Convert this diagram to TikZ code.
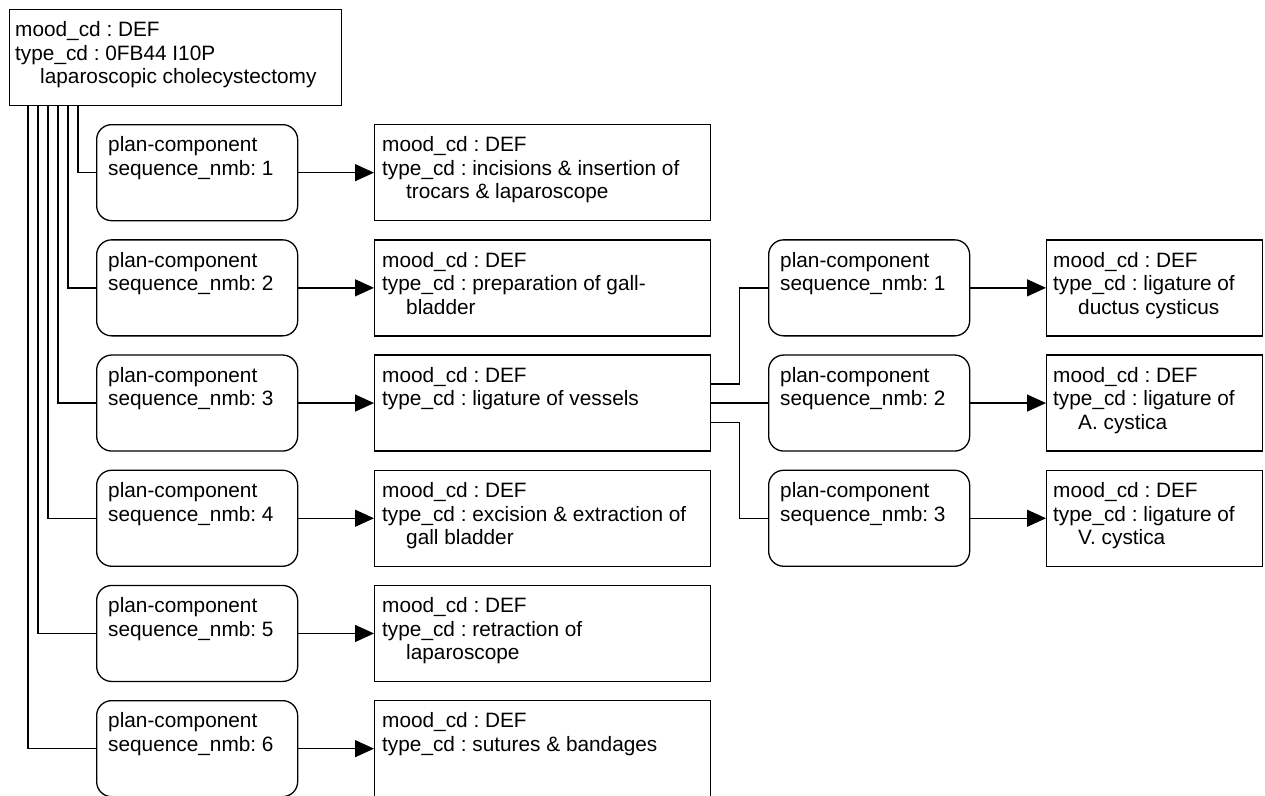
\documentclass[tikz,border=0pt]{standalone}
\usepackage{fontspec}
\setmainfont{Liberation Sans}
\usetikzlibrary{arrows.meta}
\frenchspacing
\begin{document}
\begin{tikzpicture}[x=1pt,y=-1pt,
  rectbox/.style={draw, line width=1.3pt, rectangle, anchor=north west, inner sep=0pt, minimum height=96pt},
  defbox/.style={rectbox, minimum width=336pt},
  rdefbox/.style={rectbox, minimum width=216pt},
  planbox/.style={draw, line width=1.3pt, rounded corners=15pt, rectangle, anchor=north west, inner sep=0pt, minimum width=201pt, minimum height=96pt},
  txt/.style={anchor=north west, inner sep=0pt, align=left, font=\fontsize{20.8}{23.5}\selectfont\frenchspacing},
  conn/.style={line width=1.3pt},
  arr/.style={line width=1.3pt, -{Triangle[length=19pt,width=17pt]}},
]
\useasboundingbox (0,0) rectangle (1265,795);

% top box
\node[rectbox, minimum width=332pt] (top) at (9,9) {};
\node[txt] (tt) at (15,21.7) {mood\_cd : DEF\\type\_cd : 0FB44 I10P\\\hspace*{25pt}laparoscopic cholecystectomy};

% left column
\foreach \i/\t in {1/124,2/239.2,3/354.4,4/469.6,5/584.8,6/700}{
  \node[planbox] (p\i) at (96,\t) {};
  \node[txt] (pt\i) at (108,\t+12.7) {plan-component\\sequence\_nmb: \i};
  \node[defbox] (d\i) at (374,\t) {};
}
\node[txt] (dt1) at (382,136.7) {mood\_cd : DEF\\type\_cd : incisions \& insertion of\\\hspace*{24pt}trocars \& laparoscope};
\node[txt] (dt2) at (382,251.9) {mood\_cd : DEF\\type\_cd : preparation of gall-\\\hspace*{24pt}bladder};
\node[txt] (dt3) at (382,367.1) {mood\_cd : DEF\\type\_cd : ligature of vessels};
\node[txt] (dt4) at (382,482.3) {mood\_cd : DEF\\type\_cd : excision \& extraction of\\\hspace*{24pt}gall bladder};
\node[txt] (dt5) at (382,597.5) {mood\_cd : DEF\\type\_cd : retraction of\\\hspace*{24pt}laparoscope};
\node[txt] (dt6) at (382,712.7) {mood\_cd : DEF\\type\_cd : sutures \& bandages};

% right column
\foreach \i/\t in {1/239.2,2/354.4,3/469.6}{
  \node[planbox] (rp\i) at (768,\t) {};
  \node[txt] (rpt\i) at (780,\t+12.7) {plan-component\\sequence\_nmb: \i};
  \node[rdefbox] (rd\i) at (1046,\t) {};
}
\node[txt] (rdt1) at (1053,251.9) {mood\_cd : DEF\\type\_cd : ligature of\\\hspace*{25pt}ductus cysticus};
\node[txt] (rdt2) at (1053,367.1) {mood\_cd : DEF\\type\_cd : ligature of\\\hspace*{25pt}A. cystica};
\node[txt] (rdt3) at (1053,482.3) {mood\_cd : DEF\\type\_cd : ligature of\\\hspace*{25pt}V. cystica};

% connectors from top box
\draw[conn] ([xshift=69pt]top.south west) |- (p1.west);
\draw[conn] ([xshift=59pt]top.south west) |- (p2.west);
\draw[conn] ([xshift=49pt]top.south west) |- (p3.west);
\draw[conn] ([xshift=39pt]top.south west) |- (p4.west);
\draw[conn] ([xshift=29pt]top.south west) |- (p5.west);
\draw[conn] ([xshift=19pt]top.south west) |- (p6.west);

% arrows left
\foreach \i in {1,...,6}{
  \draw[arr] (p\i.east) -- (d\i.west);
}

% branches from d3
\draw[conn] ([yshift=19.2pt]d3.east) -- ++(28,0) |- (rp1.west);
\draw[conn] (d3.east) -- (rp2.west);
\draw[conn] ([yshift=-19.2pt]d3.east) -- ++(28,0) |- (rp3.west);

% arrows right
\foreach \i in {1,2,3}{
  \draw[arr] (rp\i.east) -- (rd\i.west);
}
\end{tikzpicture}
\end{document}
